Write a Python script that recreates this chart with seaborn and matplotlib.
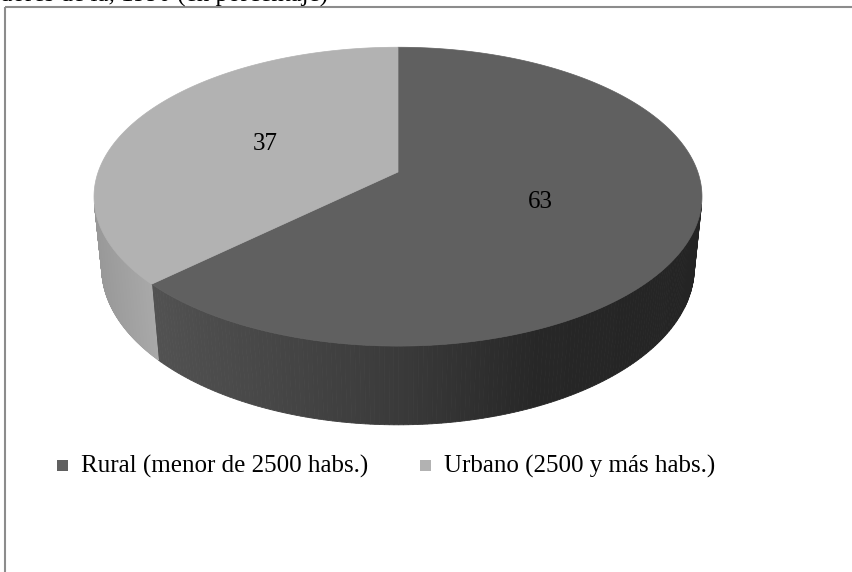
import numpy as np
import matplotlib
matplotlib.use("Agg")
import matplotlib.pyplot as plt
from matplotlib.patches import Polygon, Rectangle
import seaborn as sns

# ---- data ----
categories = ["Rural (menor de 2500 habs.)", "Urbano (2500 y más habs.)"]
values = [63, 37]
labels = ["63", "37"]
title_text = "dores de la, 1990 (en porcentaje)"

sns.set_theme(style="white")
plt.rcParams["font.family"] = ["Liberation Serif", "DejaVu Serif"]

top_colors = sns.color_palette(["#606060", "#b2b2b2"])

W, H = 852, 572
fig = plt.figure(figsize=(W / 100, H / 100), dpi=100)
ax = fig.add_axes([0, 0, 1, 1])
ax.set_xlim(0, W)
ax.set_ylim(H, 0)
ax.axis("off")

# frame
ax.add_patch(Rectangle((5, 7), 900, 700, fill=False, edgecolor="#8c8c8c", lw=1.5, zorder=1))

# title (cropped at top edge, as in the reference)
ax.text(0, 2, title_text, fontsize=18, color="black", ha="left", va="baseline", zorder=5)

# ---- 3D projection model ----
alpha = np.deg2rad(29)
D = 5.3
f = 1589.0
cx, cy = 398.0, 172.0
h = 0.275
sa, ca = np.sin(alpha), np.cos(alpha)


def proj(x, y, z):
    depth = D + y * ca - z * sa
    X = x / depth
    Y = (y * sa + z * ca) / depth
    return cx + f * X, cy - f * Y


total = float(sum(values))
start = 90.0
slices = []
for v in values:
    a0 = start - 360.0 * v / total
    slices.append((a0, start))
    start = a0

vis_lo = -180 + np.rad2deg(np.arcsin(1 / (D * ca)))
vis_hi = -np.rad2deg(np.arcsin(1 / (D * ca)))


def side_shade(i, xs):
    if i == 0:
        return np.interp(xs, [150, 400, 540, 700], [0x52, 0x3a, 0x27, 0x24]) / 255.0
    return np.interp(xs, [94, 150], [0x98, 0xa8]) / 255.0


# sides
for i, (a0, a1) in enumerate(slices):
    for shift in (0, -360, 360):
        lo = max(a0 + shift, vis_lo)
        hi = min(a1 + shift, vis_hi)
        if hi > lo:
            ths = np.deg2rad(np.linspace(lo, hi, 160))
            for t0, t1 in zip(ths[:-1], ths[1:]):
                p1 = proj(np.cos(t0), np.sin(t0), 0)
                p2 = proj(np.cos(t1), np.sin(t1), 0)
                p3 = proj(np.cos(t1), np.sin(t1), -h)
                p4 = proj(np.cos(t0), np.sin(t0), -h)
                g = float(side_shade(i, (p1[0] + p2[0]) / 2))
                c = (g, g, g)
                ax.add_patch(Polygon([p1, p2, p3, p4], closed=True, facecolor=c,
                                     edgecolor=c, lw=0.6, zorder=2))

# top faces
for i, (a0, a1) in enumerate(slices):
    ths = np.deg2rad(np.linspace(a0, a1, 300))
    pts = [proj(0, 0, 0)] + [proj(np.cos(t), np.sin(t), 0) for t in ths]
    ax.add_patch(Polygon(pts, closed=True, facecolor=top_colors[i],
                         edgecolor=top_colors[i], lw=0.5, zorder=3))

# data labels
for i, (a0, a1) in enumerate(slices):
    m = np.deg2rad((a0 + a1) / 2)
    lx, ly = proj(0.5 * np.cos(m), 0.5 * np.sin(m), 0)
    ax.text(lx, ly, labels[i], fontsize=18, color="black", ha="center", va="center", zorder=6)

# legend
leg_x = [57, 420]
leg_y = 465
for i, cat in enumerate(categories):
    ax.add_patch(Rectangle((leg_x[i], leg_y - 5.5), 11, 11, facecolor=top_colors[i],
                           edgecolor="none", zorder=6))
    ax.text(leg_x[i] + 24, leg_y + 1, cat, fontsize=18, color="black",
            ha="left", va="center", zorder=6)

fig.savefig("out.png", dpi=100)
